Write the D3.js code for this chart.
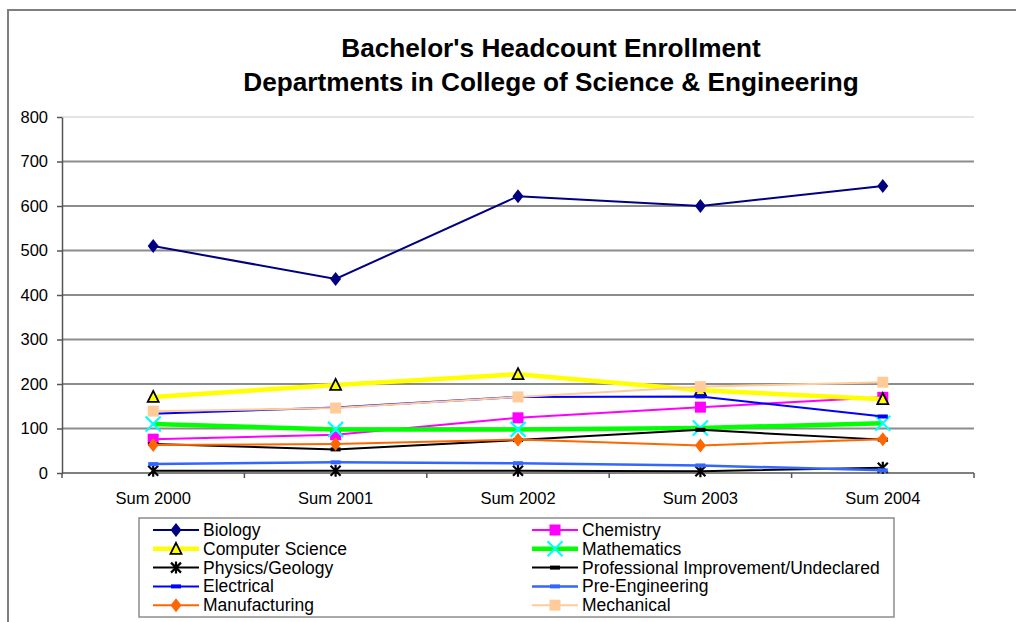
<!DOCTYPE html>
<html>
<head>
<meta charset="utf-8">
<script src="https://cdn.jsdelivr.net/npm/d3@7"></script>
<style>
  body { margin: 0; background: #fff; }
  svg, svg text { font-family: "Liberation Sans", Arial, sans-serif; }
  .grid line { stroke: #8c8c8c; stroke-width: 2; }
  .axis path, .axis line { stroke: #555; stroke-width: 1.5; }
  .axis text { font-size: 16.5px; fill: #000; font-family: "Liberation Sans", Arial, sans-serif; }
</style>
</head>
<body>
<svg width="1016" height="622"></svg>
<script>
// Chart data
var years = ["Sum 2000", "Sum 2001", "Sum 2002", "Sum 2003", "Sum 2004"];
var yTicks = [0, 100, 200, 300, 400, 500, 600, 700, 800];

var biology       = [510, 436, 622, 600, 645];
var chemistry     = [76, 86, 124, 148, 170];
var compSci       = [171, 198, 222, 186, 166];
var mathematics   = [110, 98, 98, 101, 112];
var physics       = [5, 5, 5, 4, 12];
var profImprove   = [65, 53, 74, 97, 75];
var electrical    = [133, 147, 171, 172, 127];
var preEng        = [20, 24, 22, 17, 6];
var manufacturing = [63, 65, 75, 62, 76];
var mechanical    = [139, 146, 171, 194, 204];

var series = [
    { name: "Biology", values: biology, color: "#000080", width: 2, marker: "diamond", mfill: "#000080" },
    { name: "Chemistry", values: chemistry, color: "#ff00ff", width: 2, marker: "square", mfill: "#ff00ff" },
    { name: "Computer Science", values: compSci, color: "#ffff00", width: 4.5, marker: "triangle", mfill: "#ffff00" },
    { name: "Mathematics", values: mathematics, color: "#00ff00", width: 4.5, marker: "cross", mfill: "#00ffff" },
    { name: "Physics/Geology", values: physics, color: "#000000", width: 2, marker: "star", mfill: "#000000" },
    { name: "Professional Improvement/Undeclared", values: profImprove, color: "#000000", width: 2, marker: "dash", mfill: "#000000" },
    { name: "Electrical", values: electrical, color: "#0000ff", width: 2, marker: "dash", mfill: "#0000ff" },
    { name: "Pre-Engineering", values: preEng, color: "#3366ff", width: 2.5, marker: "dash", mfill: "#3366ff" },
    { name: "Manufacturing", values: manufacturing, color: "#ff6600", width: 2, marker: "diamond", mfill: "#ff6600" },
    { name: "Mechanical", values: mechanical, color: "#ffcc99", width: 2, marker: "square", mfill: "#ffcc99" }
];

var svg = d3.select("svg");

// Outer frame
svg.append("path")
    .attr("d", "M8,630 L8,10 L1030,10")
    .attr("fill", "none")
    .attr("stroke", "#7f7f7f")
    .attr("stroke-width", 2);

// Title
var title = svg.append("text")
    .attr("text-anchor", "middle")
    .attr("font-size", "26.2px")
    .attr("font-weight", "bold");
title.append("tspan").attr("x", 551).attr("y", 57).text("Bachelor's Headcount Enrollment");
title.append("tspan").attr("x", 551).attr("y", 91).text("Departments in College of Science & Engineering");

// Scales
var plotLeft = 62, plotRight = 974, plotTop = 117, plotBottom = 473;
var x = d3.scaleBand().domain(years).range([plotLeft, plotRight]).padding(0);
var y = d3.scaleLinear().domain([0, 800]).range([plotBottom, plotTop]);
function cx(d) { return x(d) + x.bandwidth() / 2; }

// Gridlines
svg.append("g").attr("class", "grid")
    .selectAll("line")
    .data(yTicks.filter(function (d) { return d > 0; }))
    .join("line")
    .attr("x1", plotLeft).attr("x2", plotRight)
    .attr("y1", function (d) { return y(d); })
    .attr("y2", function (d) { return y(d); })
    .style("stroke", function (d) { return d === 800 ? "#e4e4e4" : null; });

// Axes
svg.append("g").attr("class", "axis")
    .attr("transform", "translate(" + plotLeft + ",0)")
    .call(d3.axisLeft(y).tickValues(yTicks).tickSize(5).tickSizeOuter(0).tickPadding(9));

var xAxis = svg.append("g").attr("class", "axis")
    .attr("transform", "translate(0," + plotBottom + ")")
    .call(d3.axisBottom(x).tickSize(0).tickPadding(19));
xAxis.select(".domain").attr("d", "M" + plotLeft + ",0H" + plotRight);

// x tick marks at category boundaries
svg.append("g").attr("class", "axis")
    .selectAll("line")
    .data(years.concat(["end"]))
    .join("line")
    .attr("x1", function (d, i) { return i < years.length ? x(d) : plotRight; })
    .attr("x2", function (d, i) { return i < years.length ? x(d) : plotRight; })
    .attr("y1", plotBottom)
    .attr("y2", plotBottom + 5);

// Marker drawing
function drawMarker(g, type, fill) {
    if (type === "diamond") {
        g.append("path").attr("d", "M0,-7L5.5,0L0,7L-5.5,0Z").attr("fill", fill);
    } else if (type === "square") {
        g.append("rect").attr("x", -5.5).attr("y", -5.5).attr("width", 11).attr("height", 11).attr("fill", fill);
    } else if (type === "triangle") {
        g.append("path").attr("d", "M0,-6L5.5,5L-5.5,5Z")
            .attr("fill", fill).attr("stroke", "#000").attr("stroke-width", 1.8);
    } else if (type === "cross") {
        g.append("path").attr("d", "M-7.5,-7.5L7.5,7.5M-7.5,7.5L7.5,-7.5")
            .attr("stroke", fill).attr("stroke-width", 2.2);
    } else if (type === "star") {
        g.append("path").attr("d", "M-5,-5L5,5M-5,5L5,-5M0,-6L0,6")
            .attr("stroke", fill).attr("stroke-width", 2.2);
    } else if (type === "dash") {
        g.append("rect").attr("x", -5).attr("y", -2).attr("width", 10).attr("height", 4).attr("fill", fill);
    }
}

var line = d3.line()
    .x(function (d, i) { return cx(years[i]); })
    .y(function (d) { return y(d); });

// Lines and markers
series.forEach(function (s) {
    var g = svg.append("g");
    g.append("path")
        .datum(s.values)
        .attr("fill", "none")
        .attr("stroke", s.color)
        .attr("stroke-width", s.width)
        .attr("d", line);
    s.values.forEach(function (v, i) {
        var m = g.append("g").attr("transform", "translate(" + cx(years[i]) + "," + y(v) + ")");
        drawMarker(m, s.marker, s.mfill);
    });
});

// Legend
var legend = svg.append("g");
legend.append("rect")
    .attr("x", 139).attr("y", 518).attr("width", 755).attr("height", 99)
    .attr("fill", "#fff").attr("stroke", "#8c8c8c").attr("stroke-width", 1.5);

series.forEach(function (s, i) {
    var col = i % 2, row = Math.floor(i / 2);
    var lx = col === 0 ? 153 : 532;
    var ly = 530 + row * 18.8;
    var item = legend.append("g");
    item.append("line")
        .attr("x1", lx).attr("x2", lx + 46)
        .attr("y1", ly).attr("y2", ly)
        .attr("stroke", s.color).attr("stroke-width", s.width);
    drawMarker(item.append("g").attr("transform", "translate(" + (lx + 23) + "," + ly + ")"), s.marker, s.mfill);
    item.append("text")
        .attr("x", lx + 50).attr("y", ly + 6)
        .attr("font-size", "17.5px")
        .text(s.name);
});
</script>
</body>
</html>
